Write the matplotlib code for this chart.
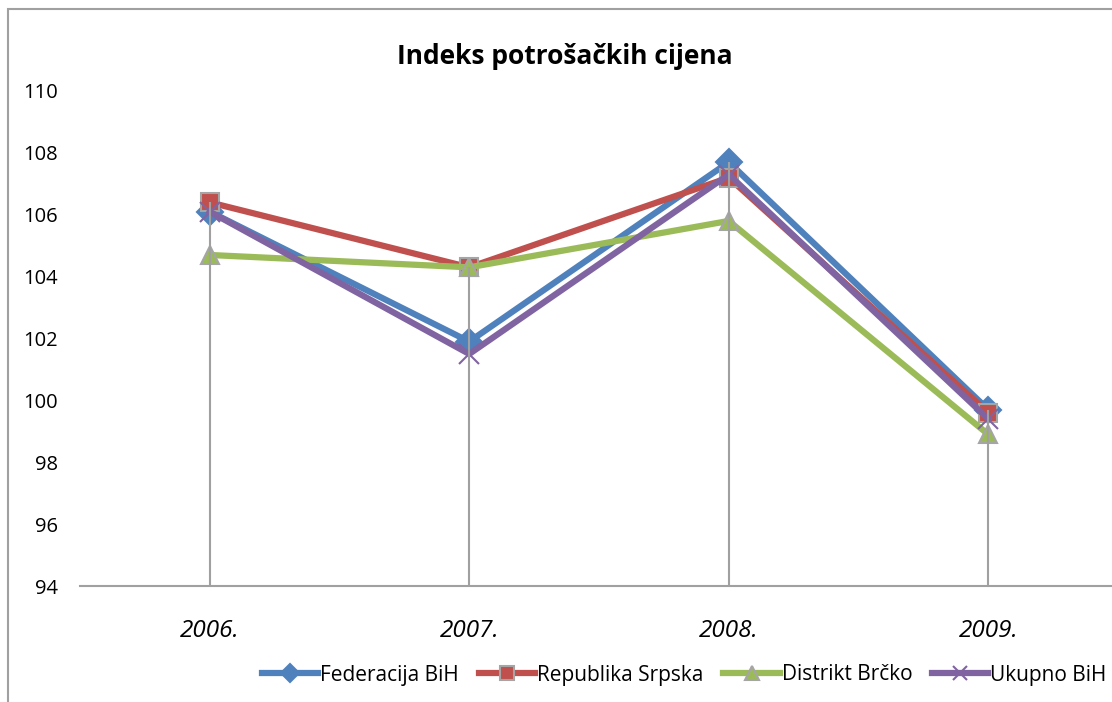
import matplotlib
matplotlib.use("Agg")
import matplotlib.pyplot as plt
from matplotlib.patches import Rectangle

# data
years = ["2006.", "2007.", "2008.", "2009."]
federacija = [106.1, 101.9, 107.7, 99.7]
republika = [106.4, 104.3, 107.2, 99.6]
brcko = [104.7, 104.3, 105.8, 98.9]
ukupno = [106.1, 101.5, 107.3, 99.4]

series = [
    ("Federacija BiH", federacija, "#4F81BD", "D", "#4F81BD"),
    ("Republika Srpska", republika, "#C0504D", "s", "#A5A5A5"),
    ("Distrikt Brčko", brcko, "#9BBB59", "^", "#A5A5A5"),
    ("Ukupno BiH", ukupno, "#8064A2", "x", "#8064A2"),
]

plt.rcParams["font.family"] = ["Open Sans", "DejaVu Sans"]

W, H = 1112, 702
fig = plt.figure(figsize=(W / 100, H / 100), dpi=100)

# chart frame (cropped at the right and bottom in the reference)
fig.patches.append(
    Rectangle((8 / W, -0.1), 1.2, 1 - 9 / H + 0.1, transform=fig.transFigure,
              fill=False, ec="#A0A0A0", lw=1.5)
)

ax = fig.add_axes([80 / W, 1 - 586 / H, 1038 / W, (586 - 91) / H])
x = list(range(len(years)))

for label, vals, color, marker, edge in series:
    ms = 14 if marker == "x" else 13.5
    ax.plot(x, vals, color=color, lw=4.5, marker=marker, ms=ms,
            mfc=color, mec=edge if marker != "x" else color,
            mew=1.5, label=label, zorder=3)

# drop lines from the highest point down to the axis
tops = [max(v) for v in zip(federacija, republika, brcko, ukupno)]
ax.vlines(x, 94, tops, color="#A0A0A0", lw=1.5, zorder=4)

ax.set_xlim(-0.5, 3.5)
ax.set_ylim(94, 110)
ax.set_yticks(range(94, 111, 2))
ax.set_xticks(x)
ax.set_xticklabels(years, fontsize=17.5, style="italic")
ax.tick_params(axis="y", length=0, pad=16, labelsize=14.5)
ax.tick_params(axis="x", length=0, pad=24)
for s in ["left", "right", "top"]:
    ax.spines[s].set_visible(False)
ax.spines["bottom"].set_color("#A0A0A0")
ax.spines["bottom"].set_linewidth(1.5)

fig.text(565 / W, 1 - 57 / H, "Indeks potrošačkih cijena", ha="center",
         va="center", fontsize=19, fontweight="bold")

fig.legend(loc="center left", bbox_to_anchor=(262 / W, 1 - 675 / H), ncol=4,
           frameon=False, fontsize=15, handlelength=2.7, handletextpad=0.1,
           columnspacing=0.95, borderaxespad=0, borderpad=0,
           markerscale=0.7)

fig.savefig("out.png", dpi=100)
